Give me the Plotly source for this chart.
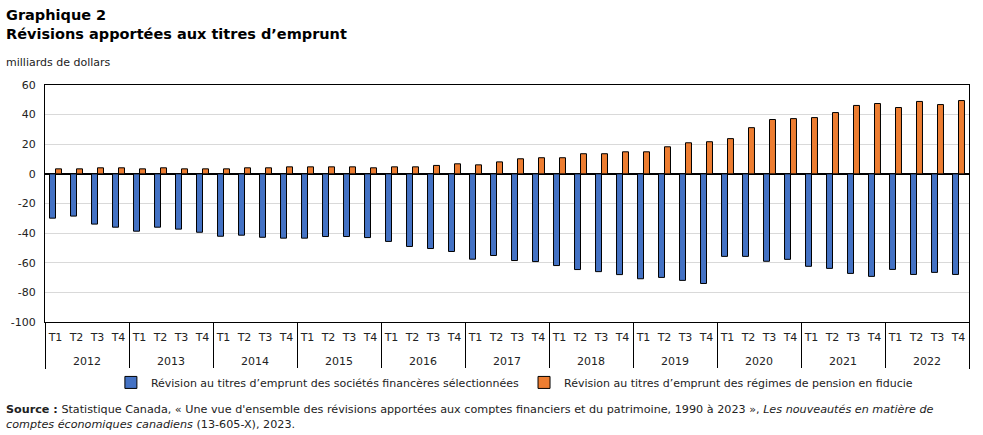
import plotly.graph_objects as go

years = ["2012", "2013", "2014", "2015", "2016", "2017", "2018", "2019", "2020", "2021", "2022"]
quarters = ["T1", "T2", "T3", "T4"]
y_ticks = [-100, -80, -60, -40, -20, 0, 20, 40, 60]
y_labels = ["-100", "-80", "-60", "-40", "-20", "0", "20", "40", "60"]

societes = [
    -29.9, -28.5, -33.9, -36.0,
    -38.7, -36.0, -37.3, -39.4,
    -42.1, -41.4, -42.8, -43.4,
    -43.4, -42.3, -42.3, -43.0,
    -45.6, -49.0, -50.4, -52.4,
    -57.6, -55.1, -58.5, -59.2,
    -61.9, -64.6, -66.0, -68.0,
    -70.8, -69.9, -71.9, -74.0,
    -55.7, -55.7, -59.0, -57.7,
    -62.4, -63.8, -67.2, -69.2,
    -64.5, -67.9, -66.5, -67.9,
]
pension = [
    3.4, 3.4, 4.1, 4.1,
    3.4, 4.1, 3.4, 3.4,
    3.4, 4.1, 4.1, 4.75,
    4.75, 4.75, 4.75, 4.1,
    4.75, 4.75, 5.7, 6.8,
    6.1, 8.1, 10.2, 10.9,
    10.9, 13.6, 13.6, 14.9,
    14.9, 18.3, 21.0, 21.7,
    23.8, 31.2, 36.7, 37.3,
    38.0, 41.4, 46.2, 47.5,
    44.8, 48.9, 46.8, 49.5,
]

name_soc = "Révision au titres d’emprunt des sociétés financères sélectionnées"
name_pen = "Révision au titres d’emprunt des régimes de pension en fiducie"

# a trailing blank line under each quarter label leaves more room above the year row
x_outer = [y for y in years for _ in quarters]
x_inner = [q + "<br>\u00a0" for _ in years for q in quarters]

FONT = "DejaVu Sans, Verdana, sans-serif"

fig = go.Figure()
fig.add_trace(go.Bar(
    x=[x_outer, x_inner], y=societes, name=name_soc,
    marker=dict(color="#4472C4", line=dict(color="#000000", width=1)),
))
fig.add_trace(go.Bar(
    x=[x_outer, x_inner], y=pension, name=name_pen,
    marker=dict(color="#ED7D31", line=dict(color="#000000", width=1)),
))

fig.update_layout(
    width=983, height=435,
    margin=dict(l=45, r=14, t=85, b=113, autoexpand=False),
    paper_bgcolor="white", plot_bgcolor="white",
    font=dict(family=FONT, size=11, color="#222222"),
    barmode="group", bargap=0.43, bargroupgap=0,
    showlegend=True,
    legend=dict(orientation="h", x=0.508, xanchor="center", y=-0.255, yanchor="middle",
                font=dict(size=11, family=FONT), traceorder="normal",
                itemwidth=30),
    xaxis=dict(type="multicategory", showline=True, linecolor="black", linewidth=1,
               mirror=True, showgrid=False, ticks="", tickangle=0, automargin=False,
               ticklabelstandoff=5,
               tickfont=dict(size=11, family=FONT, color="#222222"),
               showdividers=True, dividercolor="black", dividerwidth=1),
    yaxis=dict(range=[-100, 60], tickvals=y_ticks, ticktext=y_labels,
               showline=True, linecolor="black", linewidth=1, automargin=False,
               ticklabelstandoff=6,
               mirror=True, showgrid=True, gridcolor="#d9d9d9", gridwidth=1,
               zeroline=True, zerolinecolor="black", zerolinewidth=1.5,
               ticks="", tickfont=dict(size=11, family=FONT, color="#222222")),
)

fig.add_annotation(xref="paper", yref="paper", x=0, xshift=-41, y=1, yshift=80,
                   xanchor="left", yanchor="top", align="left", showarrow=False,
                   text="<b>Graphique 2</b><br><b>Révisions apportées aux titres d’emprunt</b>",
                   font=dict(size=14.5, family=FONT, color="black"))
fig.add_annotation(xref="paper", yref="paper", x=0, xshift=-41, y=1, yshift=31,
                   xanchor="left", yanchor="top", align="left", showarrow=False,
                   text="milliards de dollars",
                   font=dict(size=11, family=FONT, color="#222222"))
fig.add_annotation(xref="paper", yref="paper", x=0, xshift=-41, y=0, yshift=-79,
                   xanchor="left", yanchor="top", align="left", showarrow=False,
                   text=("<b>Source :</b> Statistique Canada, « Une vue d'ensemble des révisions apportées aux comptes financiers et du patrimoine, 1990 à 2023 », <i>Les nouveautés en matière de</i>"
                         "<br><i>comptes économiques canadiens</i> (13-605-X), 2023."),
                   font=dict(size=11.2, family=FONT, color="#222222"))

fig.write_html("out.html", config={"displayModeBar": False},
               post_script="document.body.style.margin='0';")
